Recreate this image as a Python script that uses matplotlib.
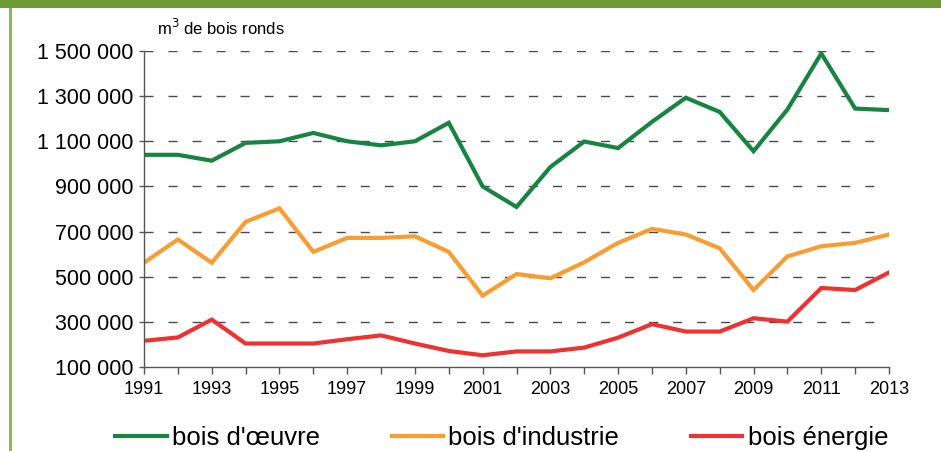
import matplotlib
matplotlib.use('Agg')
import matplotlib.pyplot as plt
from matplotlib.patches import Rectangle
from matplotlib.ticker import FuncFormatter

plt.rcParams['font.family'] = ['Liberation Sans', 'DejaVu Sans']

# Data (m3 de bois ronds)
years = list(range(1991, 2014))
bois_oeuvre = [1040000, 1040000, 1014000, 1093000, 1100000, 1137000, 1100000, 1082000,
               1100000, 1182000, 900000, 809000, 986000, 1099000, 1070000, 1186000,
               1293000, 1230000, 1056000, 1241000, 1489000, 1245000, 1238000]
bois_industrie = [562000, 665000, 562000, 743000, 803000, 610000, 672000, 672000,
                  679000, 610000, 416000, 512000, 493000, 564000, 650000, 712000,
                  687000, 626000, 441000, 590000, 635000, 650000, 687000]
bois_energie = [216000, 231000, 310000, 204000, 204000, 204000, 223000, 240000,
                204000, 171000, 152000, 169000, 169000, 186000, 230000, 290000,
                257000, 257000, 316000, 301000, 450000, 441000, 519000]
labels = ["bois d'œuvre", "bois d'industrie", "bois énergie"]
colors = ['#178541', '#f99d33', '#ee3131']

fig = plt.figure(figsize=(9.41, 4.51), dpi=100)
ax = fig.add_axes([144 / 941, 1 - 367 / 451, (889 - 144) / 941, (367 - 51) / 451])

# green frame around the chart
fig.patches.append(Rectangle((0, 1 - 8 / 451), 1, 8 / 451, transform=fig.transFigure,
                             facecolor='#6d9a34', edgecolor='none'))
fig.patches.append(Rectangle((9 / 941, 0), 3 / 941, 1 - 8 / 451, transform=fig.transFigure,
                             facecolor='#8cba55', edgecolor='none'))

for vals, lab, col in zip([bois_oeuvre, bois_industrie, bois_energie], labels, colors):
    ax.plot(years, vals, color=col, lw=3, label=lab, solid_joinstyle='miter')

ax.set_xlim(1991, 2013)
ax.set_ylim(100000, 1500000)
ax.set_yticks(range(100000, 1500001, 200000))
ax.yaxis.set_major_formatter(FuncFormatter(lambda v, p: f'{int(v):,}'.replace(',', ' ')))
ax.set_xticks(years)
ax.set_xticklabels([str(y) if (y - 1991) % 2 == 0 else '' for y in years])

# dashed horizontal grid, starting at the axis
for y in range(300000, 1500001, 200000):
    ax.axhline(y, color='#4a4a4a', lw=1, ls=(0, (6.5, 10.8)), zorder=0)

for s in ['top', 'right']:
    ax.spines[s].set_visible(False)
for s in ['left', 'bottom']:
    ax.spines[s].set_color('#555555')
    ax.spines[s].set_linewidth(1)

ax.tick_params(axis='y', direction='out', length=3.5, width=1, color='#555555',
               labelsize=15.5, pad=4)
ax.tick_params(axis='x', direction='out', length=5, width=1, color='#555555',
               labelsize=13, pad=5)

ax.text(0.017, 1.04, 'm$^3$ de bois ronds', transform=ax.transAxes, fontsize=12,
        ha='left', va='bottom')

ax.legend(loc='upper center', bbox_to_anchor=(0.48, -0.115), ncol=3, frameon=False,
          fontsize=18.5, handlelength=2.0, columnspacing=2.8, handletextpad=0.2)

fig.savefig('out.png', dpi=100)
